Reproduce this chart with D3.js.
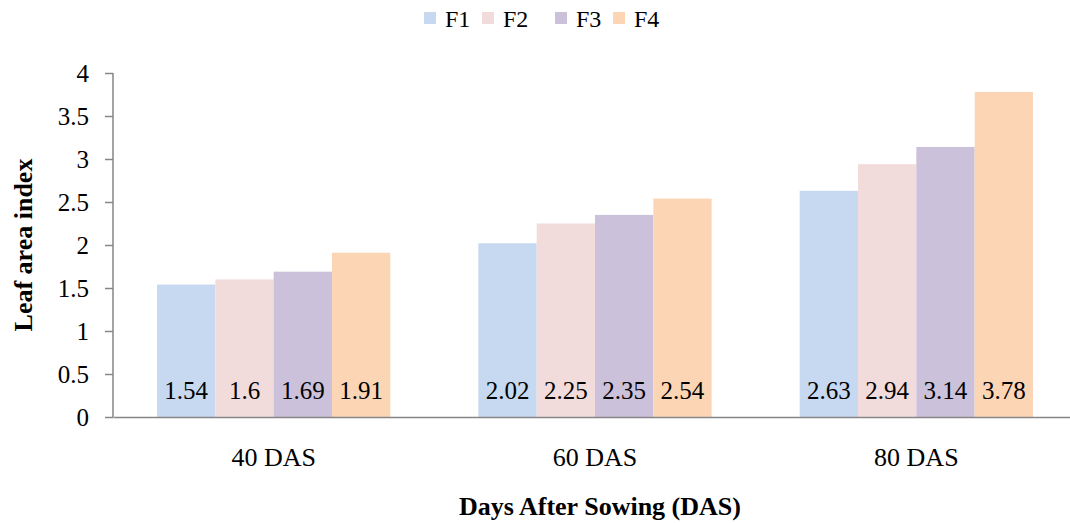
<!DOCTYPE html>
<html>
<head>
<meta charset="utf-8">
<script src="https://cdn.jsdelivr.net/npm/d3@7"></script>
<style>
  body { margin: 0; background: #fff; }
  text { font-family: "Liberation Serif", "Times New Roman", serif; }
</style>
</head>
<body>
<div id="chart"></div>
<script>
// data
var categories = ["40 DAS", "60 DAS", "80 DAS"];
var seriesNames = ["F1", "F2", "F3", "F4"];
var F1 = [1.54, 2.02, 2.63];
var F2 = [1.6, 2.25, 2.94];
var F3 = [1.69, 2.35, 3.14];
var F4 = [1.91, 2.54, 3.78];
var yTicks = [0, 0.5, 1, 1.5, 2, 2.5, 3, 3.5, 4];
var colors = ["#c6d9f1", "#f2dcdb", "#ccc1da", "#fcd5b5"];

var values = [F1, F2, F3, F4];

var width = 1070, height = 523;
var margin = {top: 73, right: -7, bottom: 106, left: 113};

var svg = d3.select("#chart")
  .append("svg")
    .attr("width", width)
    .attr("height", height);

var x0 = d3.scaleBand()
  .domain(categories)
  .range([margin.left, width - margin.right])
  .paddingInner(0.274)
  .paddingOuter(0.137);

var x1 = d3.scaleBand()
  .domain(seriesNames)
  .range([0, x0.bandwidth()]);

var y = d3.scaleLinear()
  .domain([0, 4])
  .range([height - margin.bottom, margin.top]);

// bars
seriesNames.forEach(function(s, i) {
  var g = svg.append("g");
  g.selectAll("rect")
    .data(values[i])
    .enter()
    .append("rect")
      .attr("x", function(d, j) { return x0(categories[j]) + x1(s); })
      .attr("y", function(d) { return y(d); })
      .attr("width", x1.bandwidth())
      .attr("height", function(d) { return y(0) - y(d); })
      .style("fill", colors[i]);

  g.selectAll("text")
    .data(values[i])
    .enter()
    .append("text")
      .attr("x", function(d, j) { return x0(categories[j]) + x1(s) + x1.bandwidth() / 2; })
      .attr("y", y(0) - 18)
      .attr("text-anchor", "middle")
      .style("font-size", "25px")
      .style("fill", "#000")
      .text(function(d) { return d; });
});

// y axis
var yAxis = svg.append("g")
  .attr("transform", "translate(" + margin.left + ",0)")
  .call(d3.axisLeft(y).tickValues(yTicks).tickSize(8).tickPadding(16).tickFormat(d3.format("")));
yAxis.selectAll("line, path").attr("stroke", "#868686").attr("stroke-width", 1.5);
yAxis.select(".domain").attr("d", "M0," + y(4) + "V" + y(0));
yAxis.selectAll("text").style("font-size", "25px").style("fill", "#000")
  .style("font-family", "'Liberation Serif', serif");

// x axis
var xAxis = svg.append("g")
  .attr("transform", "translate(0," + y(0) + ")")
  .call(d3.axisBottom(x0).tickSize(0).tickPadding(31));
xAxis.select(".domain").attr("stroke", "#868686").attr("stroke-width", 1.5);
xAxis.selectAll("text").style("font-size", "26px").style("fill", "#000")
  .style("font-family", "'Liberation Serif', serif");

// axis titles
svg.append("text")
  .attr("x", 600)
  .attr("y", 515)
  .attr("text-anchor", "middle")
  .style("font-size", "26px")
  .style("font-weight", "bold")
  .text("Days After Sowing (DAS)");

svg.append("text")
  .attr("transform", "translate(32," + 245 + ") rotate(-90)")
  .attr("text-anchor", "middle")
  .style("font-size", "26px")
  .style("font-weight", "bold")
  .text("Leaf area index");

// legend
var legendX = [424, 482, 555, 613];
var legend = svg.append("g");
seriesNames.forEach(function(s, i) {
  legend.append("rect")
    .attr("x", legendX[i])
    .attr("y", 12)
    .attr("width", 12)
    .attr("height", 12)
    .style("fill", colors[i]);
  legend.append("text")
    .attr("x", legendX[i] + 21)
    .attr("y", 27)
    .style("font-size", "24px")
    .text(s);
});
</script>
</body>
</html>
